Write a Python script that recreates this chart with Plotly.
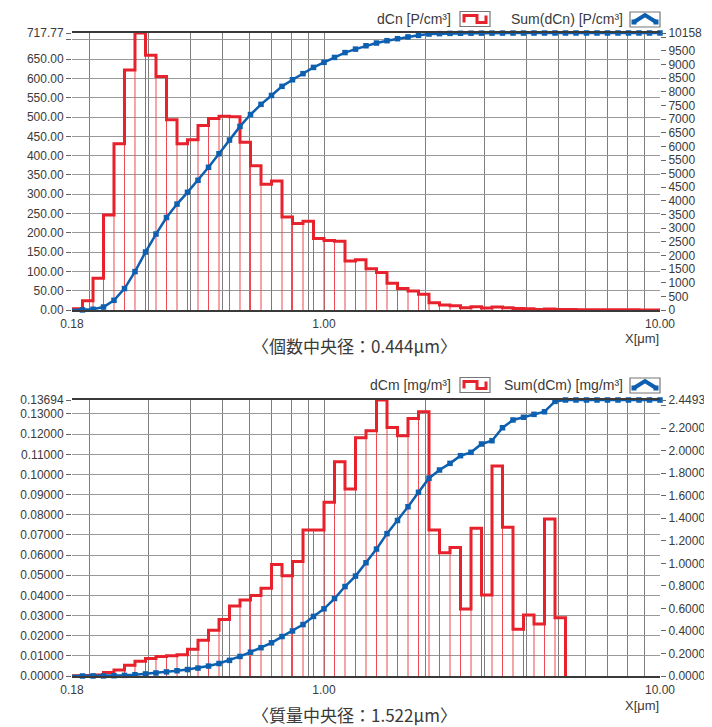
import plotly.graph_objects as go

# ---------------- data ----------------
# size-channel edges [um] (32 channels per decade)
edges = [0.1778, 0.1911, 0.2054, 0.2207, 0.2371, 0.2548, 0.2738, 0.2943, 0.3162, 0.3398,
         0.3652, 0.3924, 0.4217, 0.4532, 0.4870, 0.5233, 0.5623, 0.6043, 0.6494, 0.6978,
         0.7499, 0.8058, 0.8660, 0.9306, 1.0000, 1.0746, 1.1548, 1.2409, 1.3335, 1.4330,
         1.5399, 1.6548, 1.7783, 1.9110, 2.0535, 2.2067, 2.3714, 2.5483, 2.7384, 2.9427,
         3.1623, 3.3982, 3.6517, 3.9242, 4.2170, 4.5316, 4.8697, 5.2330, 5.6234, 6.0430,
         6.4938, 6.9783, 7.4989, 8.0584, 8.6596, 9.3057, 10.000]

# number distribution dCn [P/cm3] per channel
dCn = [3, 24, 82, 246, 431, 622, 717.77, 660, 605, 493, 431, 441, 478, 496, 502, 501,
       435, 374, 326, 334, 241, 224, 230, 185, 180, 178, 127, 130, 107, 97, 69, 56, 49,
       41, 19, 13, 11, 6, 8.6, 5, 7.8, 6, 4, 3, 1.5, 2.5, 1.2, 1, 0.8, 0.8, 0.6, 0.5,
       0.5, 0.4, 0.3, 0.3]
# cumulative Sum(dCn) at each channel edge
sum_dCn = [0, 3, 27, 109, 355, 786, 1408, 2126, 2786, 3391, 3884, 4315, 4756, 5234, 5730,
           6232, 6733, 7168, 7542, 7868, 8202, 8443, 8667, 8897, 9082, 9262, 9440, 9567,
           9690, 9790, 9876, 9950, 10015, 10072, 10121, 10135, 10144, 10148, 10151, 10153,
           10154, 10155, 10156, 10156, 10157, 10157, 10158, 10158, 10158, 10158, 10158,
           10158, 10158, 10158, 10158, 10158, 10158]

# mass distribution dCm [mg/m3] per channel
dCm = [0.0001, 0.0003, 0.0005, 0.0017, 0.0030, 0.0053, 0.0073, 0.0087, 0.0097, 0.0100,
       0.0105, 0.0133, 0.0177, 0.0227, 0.0280, 0.0347, 0.0377, 0.0400, 0.0435, 0.0553,
       0.0497, 0.0568, 0.0724, 0.0724, 0.0862, 0.1063, 0.0928, 0.1182, 0.1217, 0.13694,
       0.1233, 0.1192, 0.1278, 0.1311, 0.0724, 0.0612, 0.0638, 0.0332, 0.0733, 0.0402,
       0.1042, 0.0738, 0.0232, 0.0303, 0.0258, 0.0779, 0.0289, 0, 0, 0, 0, 0, 0, 0, 0, 0]
sum_dCm = [0, 0.0001, 0.0004, 0.0009, 0.0026, 0.0056, 0.0109, 0.0182, 0.0269, 0.0366,
           0.0466, 0.0571, 0.0704, 0.0881, 0.1108, 0.1388, 0.1735, 0.2112, 0.2512, 0.2947,
           0.3500, 0.3997, 0.4565, 0.5289, 0.5960, 0.6875, 0.7938, 0.8866, 1.0048, 1.1265,
           1.2634, 1.3800, 1.5020, 1.6300, 1.7550, 1.8280, 1.8870, 1.9550, 1.9850, 2.0590,
           2.0880, 2.2030, 2.2720, 2.2960, 2.3220, 2.3450, 2.4370, 2.4493, 2.4493, 2.4493,
           2.4493, 2.4493, 2.4493, 2.4493, 2.4493, 2.4493, 2.4493]

x_tickvals = [0.1778, 1.0, 10.0]
x_ticktext = ["0.18", "1.00", "10.00"]
x_minor = [0.2, 0.3, 0.4, 0.5, 0.6, 0.7, 0.8, 0.9, 1.0, 2, 3, 4, 5, 6, 7, 8, 9]

n_left_vals = [0, 50, 100, 150, 200, 250, 300, 350, 400, 450, 500, 550, 600, 650, 700, 717.77]
n_left_text = ["0.00", "50.00", "100.00", "150.00", "200.00", "250.00", "300.00", "350.00",
               "400.00", "450.00", "500.00", "550.00", "600.00", "650.00", "", "717.77"]
n_right_vals = [0, 500, 1000, 1500, 2000, 2500, 3000, 3500, 4000, 4500, 5000, 5500, 6000,
                6500, 7000, 7500, 8000, 8500, 9000, 9500, 10000, 10158]
n_right_text = ["0", "500", "1000", "1500", "2000", "2500", "3000", "3500", "4000", "4500",
                "5000", "5500", "6000", "6500", "7000", "7500", "8000", "8500", "9000",
                "9500", "", "10158"]

m_left_vals = [0, 0.01, 0.02, 0.03, 0.04, 0.05, 0.06, 0.07, 0.08, 0.09, 0.10, 0.11, 0.12,
               0.13, 0.13694]
m_left_text = ["0.00000", "0.01000", "0.02000", "0.03000", "0.04000", "0.05000", "0.06000",
               "0.07000", "0.08000", "0.09000", "0.10000", "0.11000", "0.12000", "0.13000",
               "0.13694"]
m_right_vals = [0, 0.2, 0.4, 0.6, 0.8, 1.0, 1.2, 1.4, 1.6, 1.8, 2.0, 2.2, 2.4, 2.4493]
m_right_text = ["0.0000", "0.2000", "0.4000", "0.6000", "0.8000", "1.0000", "1.2000",
                "1.4000", "1.6000", "1.8000", "2.0000", "2.2000", "", "2.4493"]

# ---------------- styling ----------------
OFF = 8                     # page body margin of the browser
W, H = 712 - OFF, 727 - OFF
RED = "#e8222c"
RED_THIN = "#ee4850"
BLUE = "#0d5fb0"
GRID = "#999999"
VGRID = "#7e7e7e"
TXT = "#3a3a3a"
NUMFONT = "Liberation Sans"
JPFONT = "Noto Sans CJK JP"


def fx(x):
    return (x - OFF) / W


def fy(y):
    return 1 - (y - OFF) / H


fig = go.Figure()


def add_chart(bins, cum, xa, ya, ya2):
    # last non-zero channel
    n = max(i for i, v in enumerate(bins) if v > 0) + 1
    # thin channel separators
    vx, vy = [], []
    for k in range(1, n + 1):
        left = bins[k - 1]
        right = bins[k] if k < n else 0
        vx += [edges[k], edges[k], None]
        vy += [0, max(left, right), None]
    fig.add_trace(go.Scatter(x=vx, y=vy, mode="lines", xaxis=xa, yaxis=ya,
                             line=dict(color=RED_THIN, width=1), hoverinfo="skip"))
    # thick step outline
    sx = [edges[0]] + edges[:n] + [edges[n]]
    sy = [0] + bins[:n] + [0]
    fig.add_trace(go.Scatter(x=sx, y=sy, mode="lines", xaxis=xa, yaxis=ya,
                             line=dict(color=RED, width=3, shape="hv"), hoverinfo="skip"))
    # cumulative curve
    fig.add_trace(go.Scatter(x=edges, y=cum, mode="lines+markers", xaxis=xa, yaxis=ya2,
                             line=dict(color=BLUE, width=2.5),
                             marker=dict(symbol="square", size=5.5, color=BLUE),
                             cliponaxis=False, hoverinfo="skip"))


add_chart(dCn, sum_dCn, "x", "y", "y2")
add_chart(dCm, sum_dCm, "x2", "y3", "y4")


def xaxis_cfg(anchor):
    return dict(type="log", range=[-0.75, 1], domain=[fx(72), fx(660)], anchor=anchor,
                tickvals=x_tickvals, ticktext=x_ticktext, ticks="", showgrid=False,
                showline=True, mirror=True, linecolor="#3a3a3a", linewidth=1.6,
                zeroline=False, automargin=False, ticklabelstandoff=2,
                tickfont=dict(family=NUMFONT, size=12, color=TXT),
                minor=dict(tickmode="array", tickvals=x_minor, showgrid=True,
                           gridcolor=VGRID, gridwidth=1.3, ticks=""))


def yleft_cfg(rng, dom, vals, text, anchor):
    return dict(range=rng, domain=dom, anchor=anchor, tickmode="array", tickvals=vals,
                ticktext=text, ticks="outside", ticklen=5, tickcolor="#666", tickwidth=1,
                showgrid=True, gridcolor=GRID, gridwidth=1.3, zeroline=False,
                showline=False, automargin=False,
                tickfont=dict(family=NUMFONT, size=12, color=TXT))


def yright_cfg(rng, vals, text, overlay, anchor):
    return dict(range=rng, overlaying=overlay, side="right", anchor=anchor,
                tickmode="array", tickvals=vals, ticktext=text, ticks="outside",
                ticklen=5, tickcolor="#666", tickwidth=1, showgrid=False,
                zeroline=False, showline=False, automargin=False,
                tickfont=dict(family=NUMFONT, size=12, color=TXT))


top_dom = [fy(310), fy(33)]
bot_dom = [fy(676), fy(400)]

fig.update_layout(
    width=W, height=H,
    margin=dict(l=0, r=0, t=0, b=0, pad=0, autoexpand=False),
    paper_bgcolor="white", plot_bgcolor="white", showlegend=False,
    xaxis=xaxis_cfg("y"),
    yaxis=yleft_cfg([0, 717.77], top_dom, n_left_vals, n_left_text, "x"),
    yaxis2=yright_cfg([0, 10158], n_right_vals, n_right_text, "y", "x"),
    xaxis2=xaxis_cfg("y3"),
    yaxis3=yleft_cfg([0, 0.13694], bot_dom, m_left_vals, m_left_text, "x2"),
    yaxis4=yright_cfg([0, 2.4493], m_right_vals, m_right_text, "y3", "x2"),
)

annotations = []
shapes = []


def legend(y0, left_label, right_label):
    annotations.append(dict(x=fx(453), y=fy(y0), xref="paper", yref="paper",
                            text=left_label, showarrow=False, xanchor="right",
                            yanchor="middle",
                            font=dict(family=NUMFONT, size=14, color=TXT)))
    annotations.append(dict(x=fx(625), y=fy(y0), xref="paper", yref="paper",
                            text=right_label, showarrow=False, xanchor="right",
                            yanchor="middle",
                            font=dict(family=NUMFONT, size=14, color=TXT)))
    # red icon
    shapes.append(dict(type="rect", xref="paper", yref="paper", x0=fx(460), x1=fx(490),
                       y0=fy(y0 + 7.5), y1=fy(y0 - 7.5),
                       line=dict(color="#777", width=1.2), fillcolor="white"))
    pts = [(464, y0 + 3.5), (464, y0 - 3.5), (477, y0 - 3.5), (477, y0 + 3.5),
           (486, y0 + 3.5), (486, y0 - 3.5)]
    path = "M " + " L ".join(f"{fx(a):.5f},{fy(b):.5f}" for a, b in pts)
    shapes.append(dict(type="path", xref="paper", yref="paper", path=path,
                       line=dict(color=RED, width=3)))
    # blue icon
    shapes.append(dict(type="rect", xref="paper", yref="paper", x0=fx(630), x1=fx(660),
                       y0=fy(y0 + 8), y1=fy(y0 - 7),
                       line=dict(color="#777", width=1.2), fillcolor="white"))
    pts = [(634, y0 + 3), (645, y0 - 4), (656, y0 + 3)]
    path = "M " + " L ".join(f"{fx(a):.5f},{fy(b):.5f}" for a, b in pts)
    shapes.append(dict(type="path", xref="paper", yref="paper", path=path,
                       line=dict(color=BLUE, width=4)))
    for a, b in [(634, y0 + 3), (656, y0 + 3)]:
        shapes.append(dict(type="rect", xref="paper", yref="paper",
                           x0=fx(a - 2.5), x1=fx(a + 2.5), y0=fy(b + 2.5), y1=fy(b - 2.5),
                           line=dict(width=0), fillcolor=BLUE))


legend(19, "dCn [P/cm³]", "Sum(dCn) [P/cm³]")
legend(385, "dCm [mg/m³]", "Sum(dCm) [mg/m³]")

for yy in (339, 705):
    annotations.append(dict(x=fx(661), y=fy(yy), xref="paper", yref="paper",
                            text="X[μm]", showarrow=False, xanchor="right",
                            yanchor="middle",
                            font=dict(family=NUMFONT, size=13, color=TXT)))

annotations.append(dict(x=fx(354), y=fy(345), xref="paper", yref="paper",
                        text="〈個数中央径：0.444μm〉", showarrow=False,
                        xanchor="center", yanchor="middle",
                        font=dict(family=JPFONT, size=17, color=TXT)))
annotations.append(dict(x=fx(354), y=fy(714), xref="paper", yref="paper",
                        text="〈質量中央径：1.522μm〉", showarrow=False,
                        xanchor="center", yanchor="middle",
                        font=dict(family=JPFONT, size=17, color=TXT)))

fig.update_layout(annotations=annotations, shapes=shapes)

fig.write_html("out.html")
